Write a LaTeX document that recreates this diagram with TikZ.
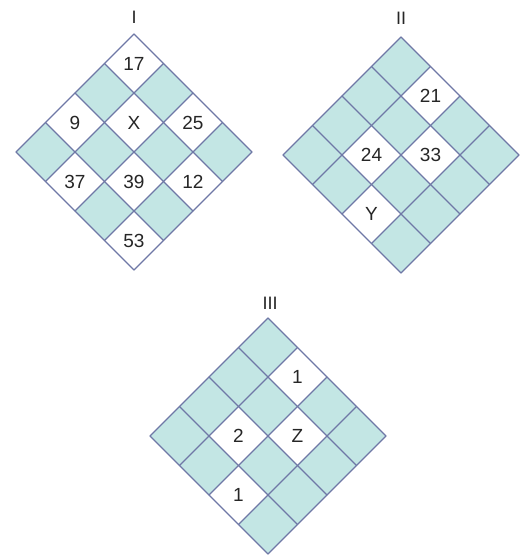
\documentclass[tikz,border=0pt]{standalone}
\usepackage{fontspec}
\setmainfont{Liberation Sans}
\definecolor{cellfill}{HTML}{C3E6E4}
\definecolor{gridline}{HTML}{6F78A6}
\tikzset{
  gridstroke/.style={draw=gridline, line width=1.3pt, line cap=round},
  celllabel/.style={font=\fontsize{19}{19}\selectfont, text=black!85, inner sep=0pt},
  titlelabel/.style={font=\fontsize{18}{18}\selectfont, text=black!85, inner sep=0pt},
}
\newcommand{\hh}{29.5}
% #1 name, #2 top x, #3 top y, #4 list of i/j/label white cells
\newcommand{\diagrid}[4]{%
  \begin{scope}[shift={(#2,#3)}]
    \fill[cellfill] (0,0) -- (4*\hh,4*\hh) -- (0,8*\hh) -- (-4*\hh,4*\hh) -- cycle;
    \foreach \i/\j/\t [count=\n] in {#4} {
      \pgfmathsetmacro{\cx}{(\i-\j)*\hh}
      \pgfmathsetmacro{\cy}{(\i+\j+1)*\hh}
      \fill[white] (\cx,\cy-\hh) -- (\cx+\hh,\cy) -- (\cx,\cy+\hh) -- (\cx-\hh,\cy) -- cycle;
      \node[celllabel] (#1-\n) at (\cx,\cy) {\t};
    }
    \foreach \k in {0,...,4} {
      \draw[gridstroke] (-\k*\hh,\k*\hh) -- (4*\hh-\k*\hh,4*\hh+\k*\hh);
      \draw[gridstroke] (\k*\hh,\k*\hh) -- (\k*\hh-4*\hh,\k*\hh+4*\hh);
    }
  \end{scope}}
\begin{document}
\begin{tikzpicture}[x=1pt,y=-1pt]
\useasboundingbox (0,0) rectangle (530,557);
\fill[white] (0,0) rectangle (530,557);
\node[titlelabel] (t1) at (134,17) {I};
\node[titlelabel] (t2) at (401,18) {II};
\node[titlelabel] (t3) at (270,303) {III};
\diagrid{a}{134}{34}{0/0/17, 0/2/9, 1/1/X, 2/0/25, 1/3/37, 2/2/39, 3/1/12, 3/3/53}
\diagrid{b}{401}{37}{1/0/21, 1/2/24, 2/1/33, 2/3/Y}
\diagrid{c}{268}{318}{1/0/1, 1/2/2, 2/1/Z, 2/3/1}
\end{tikzpicture}
\end{document}
